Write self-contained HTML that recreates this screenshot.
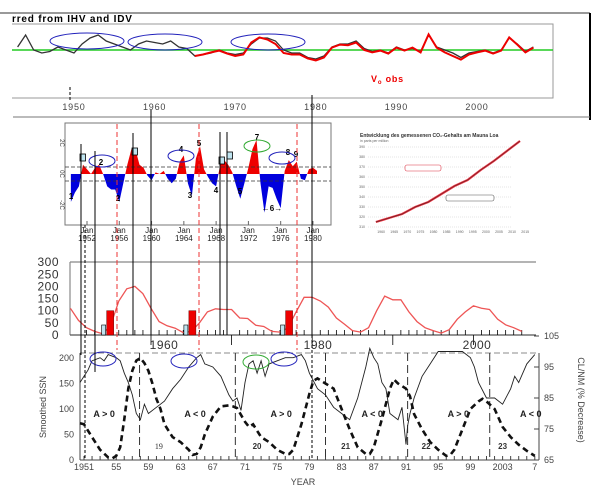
<!DOCTYPE html>
<html><head><meta charset="utf-8">
<style>
html,body{margin:0;padding:0;background:#fff;}
svg{display:block;font-family:"Liberation Sans",sans-serif;}
</style></head>
<body>
<svg id="root" width="612" height="499" viewBox="0 0 612 499">
  <!-- Top panel frame -->
  <g>
    <line x1="0" y1="13" x2="590" y2="13" stroke="#333" stroke-width="1"/>
    <line x1="590" y1="13" x2="590" y2="120" stroke="#000" stroke-width="2"/>
    <line x1="13" y1="117" x2="590" y2="117" stroke="#777" stroke-width="1"/>
    <text x="12" y="22" font-size="10" font-weight="bold" letter-spacing="0.8">rred from IHV and IDV</text>
    <polyline points="12,24 553,24 553,98 12,98" fill="none" stroke="#999" stroke-width="1"/>
    <text x="371" y="82" font-size="9" font-weight="bold" fill="#e00" letter-spacing="0.8">V<tspan font-size="6" dy="2">o</tspan><tspan dy="-2"> obs</tspan></text>
    <g id="topAxis"></g>
  </g>
  <!-- ENSO panel -->
  <g>
    <rect x="65" y="123" width="266" height="102" fill="none" stroke="#777"/>
    <text transform="translate(60,143) rotate(90)" font-size="6" text-anchor="middle" fill="#444">2C</text>
    <text transform="translate(60,174) rotate(90)" font-size="6" text-anchor="middle" fill="#444">0C</text>
    <text transform="translate(60,205) rotate(90)" font-size="6" text-anchor="middle" fill="#444">-2C</text>
    <g id="enso"></g>
  </g>
  <!-- CO2 inset -->
  <g id="co2">
    <text x="360" y="137" font-size="5" font-weight="bold" fill="#333">Entwicklung des gemessenen CO₂-Gehalts am Mauna Loa</text>
    <text x="360" y="142" font-size="3.5" fill="#666">in parts per million</text>
  </g>
  <!-- SSN panel -->
  <g>
    <line x1="70" y1="262" x2="536" y2="262" stroke="#888" stroke-width="1.2"/>
    <line x1="70" y1="262" x2="70" y2="335" stroke="#888" stroke-width="1.2"/>
    <line x1="70" y1="335" x2="536" y2="335" stroke="#555" stroke-width="1.2"/>
    <g id="ssn"></g>
  </g>
  <!-- Bottom panel -->
  <g>
    <rect x="80" y="353" width="459" height="107" fill="none" stroke="#666" stroke-width="0.8" stroke-dasharray="6,3"/>
    <line x1="80" y1="353" x2="80" y2="460" stroke="#444"/>
    <line x1="539" y1="353" x2="539" y2="460" stroke="#444"/>
    <line x1="80" y1="460" x2="539" y2="460" stroke="#444"/>
    <text transform="translate(46,407) rotate(-90)" font-size="9" text-anchor="middle" fill="#444">Smoothed SSN</text>
    <text transform="translate(578,400) rotate(90)" font-size="9" text-anchor="middle" fill="#444">CL/NM (% Decrease)</text>
    <text x="303" y="485" font-size="9" text-anchor="middle" fill="#444">YEAR</text>
    <g id="bottom"></g>
  </g>
  <g id="vlines"></g>
</svg>
<script>
// ---------- data ----------
const topYears = [1943,1944,1945,1946,1947,1948,1949,1950,1951,1952,1953,1954,1955,1956,1957,1958,1959,1960,1961,1962,1963,1964,1965,1966,1967,1968,1969,1970,1971,1972,1973,1974,1975,1976,1977,1978,1979,1980,1981,1982,1983,1984,1985,1986,1987,1988,1989,1990,1991,1992,1993,1994,1995,1996,1997,1998,1999,2000,2001,2002,2003,2004,2005,2006,2007];
const topInferred = [430,470,420,410,415,430,420,410,440,460,470,450,440,430,420,440,450,445,440,450,430,425,400,405,410,420,410,405,410,440,460,460,450,420,410,410,395,390,400,430,440,440,450,425,415,420,410,430,420,425,415,470,430,420,410,395,410,415,420,410,420,460,440,415,430];
const obsYears = [1965,1966,1967,1968,1969,1970,1971,1972,1973,1974,1975,1976,1977,1978,1979,1980,1981,1982,1983,1984,1985,1986,1987,1988,1989,1990,1991,1992,1993,1994,1995,1996,1997,1998,1999,2000,2001,2002,2003,2004,2005,2006,2007];
const topObserved = [400,405,412,418,408,400,405,445,462,455,440,410,405,405,392,385,395,428,438,436,445,420,412,418,408,428,418,428,412,472,428,412,400,388,405,412,418,408,418,462,438,412,428];
const topTicks = [1950,1960,1970,1980,1990,2000];

const ensoYears = [1950,1950.5,1951,1951.5,1952,1952.5,1953,1953.5,1954,1954.5,1955,1955.5,1956,1956.5,1957,1957.5,1958,1958.5,1959,1959.5,1960,1960.5,1961,1961.5,1962,1962.5,1963,1963.5,1964,1964.5,1965,1965.5,1966,1966.5,1967,1967.5,1968,1968.5,1969,1969.5,1970,1970.5,1971,1971.5,1972,1972.5,1973,1973.5,1974,1974.5,1975,1975.5,1976,1976.5,1977,1977.5,1978,1978.5,1979,1979.5,1980,1980.5];
const ensoIndex = [-1.8,-1.2,-0.8,0.6,0.3,0,0.4,0.6,0,-0.8,-1.0,-1.0,-1.8,-0.6,0.6,1.6,1.6,0.6,0.4,-0.1,-0.4,0.1,0,0.2,-0.3,-0.6,-0.3,0.8,1.2,-0.6,-1.4,1.0,1.8,0.3,-0.2,-0.6,-0.8,0.6,0.9,0.6,0.1,-0.8,-1.6,-0.6,0.4,1.6,2.2,-0.6,-2.5,-0.8,-0.9,-1.6,-2.2,0.2,0.9,0.5,0.8,-0.3,-0.4,0.3,0.4,0.2];
const ensoTicks = [1952,1956,1960,1964,1968,1972,1976,1980];

const co2Years = [1958,1963,1968,1973,1978,1983,1988,1993,1998,2003,2008,2013];
const co2Values = [315,319,323,330,335,343,351,357,367,376,386,396];

const ssnYears = [1950,1951,1952,1953,1954,1955,1956,1957,1958,1959,1960,1961,1962,1963,1964,1965,1966,1967,1968,1969,1970,1971,1972,1973,1974,1975,1976,1977,1978,1979,1980,1981,1982,1983,1984,1985,1986,1987,1988,1989,1990,1991,1992,1993,1994,1995,1996,1997,1998,1999,2000,2001,2002,2003,2004,2005,2006];
const ssnMonthly = [110,60,30,15,5,40,140,190,200,170,110,55,38,28,10,15,50,95,108,105,105,70,68,40,35,15,12,30,95,155,155,140,115,70,45,18,12,30,100,160,145,145,95,55,30,18,8,22,65,95,120,110,105,65,42,30,15];
const ssnTicks = [0,50,100,150,200,250,300];
const ssnBarYears = [1954.5,1964.7,1976.7];
const ssnBarValues = [100,100,100];

const smYears = [1950.5,1951,1952,1953,1954,1954.5,1955,1955.5,1956,1956.5,1957,1957.5,1958,1958.5,1959,1959.5,1960,1960.5,1961,1962,1963,1964,1964.5,1965,1965.5,1966,1967,1968,1969,1969.5,1970,1971,1971.5,1972,1973,1974,1975,1976,1976.5,1977,1978,1979,1979.5,1980,1981,1982,1983,1984,1985,1986,1986.5,1987,1988,1989,1989.5,1990,1991,1991.5,1992,1993,1994,1995,1996,1996.5,1997,1998,1999,2000,2000.5,2001,2002,2003,2004,2005,2006,2007];
const smSSN = [72,70,45,20,5,3,8,25,80,140,175,195,200,190,175,150,120,100,70,45,35,20,10,12,25,50,85,105,107,105,102,75,65,70,45,35,20,12,12,20,70,130,155,160,150,140,100,60,25,12,12,25,80,140,158,150,140,125,90,60,35,20,8,10,20,60,100,115,120,115,100,65,45,30,18,8];
const clYears = [1950.5,1951,1951.5,1952,1953,1953.5,1954,1955,1955.5,1956,1956.5,1957,1957.5,1958,1958.5,1959,1960,1961,1962,1963,1964,1965,1965.5,1966,1967,1968,1969,1969.5,1970,1970.5,1971,1971.5,1972,1972.5,1973,1973.5,1974,1975,1976,1977,1978,1978.5,1979,1980,1981,1982,1983,1984,1985,1986,1986.5,1987,1987.5,1988,1988.5,1989,1990,1990.5,1991,1991.2,1991.5,1992,1993,1994,1995,1996,1997,1998,1999,1999.5,2000,2001,2002,2003,2004,2004.5,2005,2006,2007];
const clNM = [90,92,94,97,98,97,99,98,97,93,90,86,80,78,83,80,82,84,88,91,95,98,99,96,95,92,86,84,85,81,90,96,97,93,97,92,96,97,98,98,99,97,93,88,86,82,80,78,85,95,101,98,96,90,88,80,78,82,70,76,80,85,92,96,100,100,100,100,98,95,90,85,85,83,88,92,90,96,99];
const leftTicks = [0,50,100,150,200];
const rightTicks = [65,75,85,95,105];
const yearTicks = [1951,1955,1959,1963,1967,1971,1975,1979,1983,1987,1991,1995,1999,2003,2007];
const yearTickLabels = ['1951','55','59','63','67','71','75','79','83','87','91','95','99','2003','7'];
const cycleYears = [1960.3,1972.5,1983.5,1993.5,2003];
const cycleLabels = ['19','20','21','22','23'];
const polarityYears = [1953.5,1964.8,1975.5,1986.8,1997.5,2006.5];
const polarityLabels = ['A > 0','A < 0','A > 0','A < 0','A > 0','A < 0'];

// ---------- scales ----------
const xT = y => 74 + (y - 1950) * 8.06, yT = v => 50 - (v - 420) * 0.3;
const xE = y => 87 + (y - 1952) * 8.07, yE = c => 174 - c * 15.5;
const xS = y => 151 + (y - 1960) * 8.06, yS = v => 335 - v * 0.243;
const xB = y => 84 + (y - 1951) * 8.05, yBL = s => 460 - s * 0.51, yBR = c => 460 - (c - 65) * 3.1;
const xC = y => 368 + (y - 1955) * 2.62, yC = v => 227 - (v - 310) * 1.0;

const NS = 'http://www.w3.org/2000/svg';
function mk(tag, attrs, parent) {
  const el = document.createElementNS(NS, tag);
  for (const k in attrs) el.setAttribute(k, attrs[k]);
  parent.appendChild(el);
  return el;
}
const pts = (xs, ys, fx, fy) => xs.map((x, i) => fx(x).toFixed(1) + ',' + fy(ys[i]).toFixed(1)).join(' ');

// ---------- top panel ----------
const topAxis = document.getElementById('topAxis');
let el;
el = mk('line', {x1: 12, y1: 50, x2: 553, y2: 50, stroke: '#2c2', 'stroke-width': 1.6}, topAxis);


el = mk('polyline', {points: pts(topYears, topInferred, xT, yT), fill: 'none', stroke: '#333', 'stroke-width': 1.3}, topAxis);


el = mk('polyline', {points: pts(obsYears, topObserved, xT, yT), fill: 'none', stroke: '#e00', 'stroke-width': 2}, topAxis);


topTicks.forEach(t => {
  const tx = mk('text', {x: xT(t), y: 110, 'font-size': 9, 'text-anchor': 'middle', fill: '#444', 'letter-spacing': 0.8}, topAxis);
  tx.textContent = t;
  
  
});
[[87, 41, 37, 8], [165, 42, 37, 8], [268, 42, 37, 8]].forEach(e => {
  const c = mk('ellipse', {cx: e[0], cy: e[1], rx: e[2], ry: e[3], fill: 'none', stroke: '#22b', 'stroke-width': 1}, topAxis);
  
  
});

// ---------- ENSO panel ----------
const enso = document.getElementById('enso');
const defs = mk('defs', {}, enso);
const cpA = mk('clipPath', {id: 'above'}, defs); mk('rect', {x: 65, y: 123, width: 266, height: 51}, cpA);
const cpB = mk('clipPath', {id: 'below'}, defs); mk('rect', {x: 65, y: 174, width: 266, height: 51}, cpB);
const areaD = 'M' + xE(ensoYears[0]) + ',174 L' + pts(ensoYears, ensoIndex, xE, yE) + ' L' + xE(ensoYears[ensoYears.length - 1]) + ',174 Z';
el = mk('path', {d: areaD, fill: '#e00', 'clip-path': 'url(#above)'}, enso);


el = mk('path', {d: areaD, fill: '#00d', 'clip-path': 'url(#below)'}, enso);


[yE(0.45), yE(-0.45)].forEach(yy => {
  const l = mk('line', {x1: 65, y1: yy, x2: 331, y2: yy, stroke: '#333', 'stroke-dasharray': '4,2', 'stroke-width': 0.8}, enso);
  
  
});
ensoTicks.forEach(t => {
  const tk = mk('line', {x1: xE(t), y1: 225, x2: xE(t), y2: 221, stroke: '#666'}, enso);
  
  
  const a = mk('text', {x: xE(t), y: 233, 'font-size': 8, 'text-anchor': 'middle', fill: '#222'}, enso);
  a.textContent = 'Jan';
  
  
  const b = mk('text', {x: xE(t), y: 241, 'font-size': 8, 'text-anchor': 'middle', fill: '#222'}, enso);
  b.textContent = t;
  
  
});
[['1',71,199],['2',101,165],['2',118,201],['3',190,198],['4',181,152],['5',199,146],['4',216,193],['5',240,194],['7',257,140],['8',288,155],['9',296,157]].forEach(n => {
  const t = mk('text', {x: n[1], y: n[2], 'font-size': 8, 'font-weight': 'bold', 'text-anchor': 'middle'}, enso);
  t.textContent = n[0];
  
  
});
el = mk('text', {x: 272, y: 211, 'font-size': 8, 'font-weight': 'bold', 'text-anchor': 'middle'}, enso);
el.textContent = '←6→';


[[102,161,13,6,'#22b'],[181,156,13,6,'#22b'],[257,146,13,6,'#3a3'],[282,158,13,6,'#22b']].forEach(e => {
  const c = mk('ellipse', {cx: e[0], cy: e[1], rx: e[2], ry: e[3], fill: 'none', stroke: e[4]}, enso);
  
  
});
[[80,154],[132,148],[219,157],[227,152]].forEach(b => {
  const r = mk('rect', {x: b[0], y: b[1], width: 5.5, height: 7, fill: '#bfe4f0', stroke: '#000', 'stroke-width': 0.8}, enso);
  
  
});

// ---------- CO2 inset ----------
const co2 = document.getElementById('co2');
[310,320,330,340,350,360,370,380,390].forEach(v => {
  const g = mk('line', {x1: 368, y1: yC(v), x2: 512, y2: yC(v), stroke: '#ccc', 'stroke-width': 0.6, 'stroke-dasharray': '1,1'}, co2);
  
  
  const t = mk('text', {x: 365, y: yC(v) + 1, 'font-size': 3.5, 'text-anchor': 'end', fill: '#666'}, co2);
  t.textContent = v;
  
  
});
[1960,1965,1970,1975,1980,1985,1990,1995,2000,2005,2010,2015].forEach(y => {
  const t = mk('text', {x: xC(y), y: 233, 'font-size': 3.5, 'text-anchor': 'middle', fill: '#666'}, co2);
  t.textContent = y;
  
  
});
el = mk('polyline', {points: pts(co2Years, co2Values, xC, yC), fill: 'none', stroke: '#e34', 'stroke-width': 2.2}, co2);


el = mk('polyline', {points: pts(co2Years, co2Values, xC, yC), fill: 'none', stroke: '#622', 'stroke-width': 0.7}, co2);


el = mk('rect', {x: 405, y: 165, width: 36, height: 6, rx: 2, fill: '#fff', stroke: '#d34', 'stroke-width': 0.6}, co2);


el = mk('rect', {x: 446, y: 195, width: 48, height: 6, rx: 2, fill: '#fff', stroke: '#555', 'stroke-width': 0.6}, co2);



// ---------- SSN panel ----------
const ssn = document.getElementById('ssn');
ssnTicks.forEach(v => {
  const t = mk('text', {x: 59, y: yS(v) + 4, 'font-size': 12, 'text-anchor': 'end', fill: '#333', 'letter-spacing': 0.5}, ssn);
  t.textContent = v;
  
  
});
for (let yr = 1952; yr <= 2006; yr++) {
  const t = mk('line', {x1: xS(yr), y1: 335, x2: xS(yr), y2: yr % 10 === 0 ? 345 : 330, stroke: '#000', 'stroke-width': 0.8}, ssn);
  
  
}
[[1960,164],[1980,318],[2000,477]].forEach(p => {
  const t = mk('text', {x: p[1], y: 349, 'font-size': 12, 'text-anchor': 'middle', fill: '#333', 'letter-spacing': 0.5}, ssn);
  t.textContent = p[0];
  
  
});
el = mk('polyline', {points: pts(ssnYears, ssnMonthly, xS, yS), fill: 'none', stroke: '#e55', 'stroke-width': 1.3}, ssn);


ssnBarYears.forEach((y, i) => {
  const b = mk('rect', {x: xS(y), y: yS(ssnBarValues[i]), width: 7, height: 335 - yS(ssnBarValues[i]), fill: '#e00', stroke: '#600', 'stroke-width': 0.5}, ssn);
  
  
  const m = mk('rect', {x: xS(y) - 5, y: 325, width: 4, height: 10, fill: '#bfe4f0', stroke: '#000', 'stroke-width': 0.6}, ssn);
  
  
});

// ---------- bottom panel ----------
const bot = document.getElementById('bottom');
leftTicks.forEach(v => {
  const t = mk('text', {x: 74, y: yBL(v) + 3, 'font-size': 9, 'text-anchor': 'end', fill: '#444'}, bot);
  t.textContent = v;
  
  
});
rightTicks.forEach(v => {
  const t = mk('text', {x: 544, y: yBR(v) + 3, 'font-size': 9, fill: '#444'}, bot);
  t.textContent = v;
  
  
  const k = mk('line', {x1: 534, y1: yBR(v), x2: 539, y2: yBR(v), stroke: '#444'}, bot);
  
  
});
yearTicks.forEach((y, i) => {
  const t = mk('text', {x: xB(y), y: 470, 'font-size': 9, 'text-anchor': 'middle', fill: '#444'}, bot);
  t.textContent = yearTickLabels[i];
  
  
});
for (let yr = 1951; yr <= 2007; yr++) {
  const k = mk('line', {x1: xB(yr), y1: 460, x2: xB(yr), y2: 456, stroke: '#444'}, bot);
  
  
}
[1957.9,1969.8,1981,1991.2,2001.4].forEach(y => {
  const l = mk('line', {x1: xB(y), y1: 353, x2: xB(y), y2: 460, stroke: '#333', 'stroke-width': 1, 'stroke-dasharray': '8,4'}, bot);
  
  
});
el = mk('polyline', {points: pts(clYears, clNM, xB, yBR), fill: 'none', stroke: '#222', 'stroke-width': 0.9}, bot);


el = mk('polyline', {points: pts(smYears, smSSN, xB, yBL), fill: 'none', stroke: '#111', 'stroke-width': 2.6, 'stroke-dasharray': '6,4'}, bot);


polarityYears.forEach((y, i) => {
  const t = mk('text', {x: xB(y), y: 417, 'font-size': 9, 'font-weight': 'bold', 'text-anchor': 'middle', fill: '#222'}, bot);
  t.textContent = polarityLabels[i];
  
  
});
cycleYears.forEach((y, i) => {
  const t = mk('text', {x: xB(y), y: 449, 'font-size': 8, 'font-weight': i ? 'bold' : 'normal', 'font-family': i ? 'Liberation Sans' : 'Liberation Serif', 'text-anchor': 'middle', fill: '#333'}, bot);
  t.textContent = cycleLabels[i];
  
  
});
[[103,359,13,7,'#22b'],[184,361,13,7,'#22b'],[256,362,13,7,'#3a3'],[284,359,13,7,'#22b']].forEach(e => {
  const c = mk('ellipse', {cx: e[0], cy: e[1], rx: e[2], ry: e[3], fill: 'none', stroke: e[4]}, bot);
  
  
});

// ---------- cross-panel vertical lines ----------
const vl = document.getElementById('vlines');
[[81,144,355],[95,151,372],[133,133,335],[151,110,335],[220,132,335],[227,132,335],[312,95,335]].forEach(v => {
  const l = mk('line', {x1: v[0], y1: v[1], x2: v[0], y2: v[2], stroke: '#000', 'stroke-width': 1}, vl);
  
  
});
[[70,87,100],[85,225,460],[312,335,460]].forEach(v => {
  const l = mk('line', {x1: v[0], y1: v[1], x2: v[0], y2: v[2], stroke: '#000', 'stroke-width': 1, 'stroke-dasharray': '3,2'}, vl);
  
  
});
[117,199,297].forEach(x => {
  const l = mk('line', {x1: x, y1: 124, x2: x, y2: 350, stroke: '#e33', 'stroke-width': 1, 'stroke-dasharray': '5,3'}, vl);
  
  
});
</script>
</body></html>
